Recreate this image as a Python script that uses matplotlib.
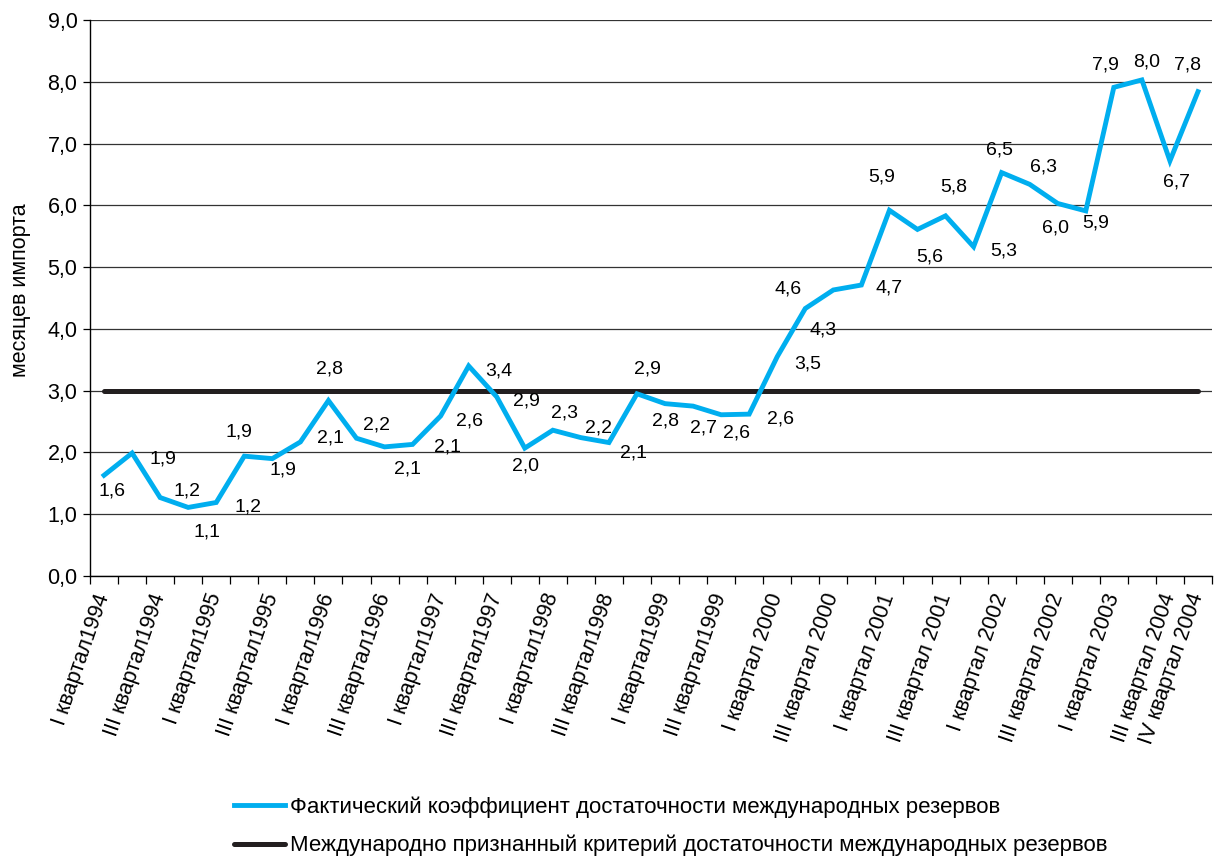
import matplotlib
matplotlib.use("Agg")
import matplotlib.pyplot as plt
from matplotlib.ticker import FixedLocator

plt.rcParams['font.family'] = ['Liberation Sans', 'DejaVu Sans']

# значения коэффициента (месяцев импорта), по кварталам
coef = [1.63, 1.99, 1.27, 1.11, 1.19, 1.94, 1.90, 2.17, 2.84, 2.23,
        2.09, 2.13, 2.59, 3.40, 2.90, 2.07, 2.36, 2.24, 2.16, 2.95,
        2.79, 2.75, 2.61, 2.62, 3.55, 4.33, 4.63, 4.71, 5.92, 5.61,
        5.83, 5.33, 6.53, 6.34, 6.03, 5.91, 7.91, 8.03, 6.72, 7.84]
coef_labels = ['1,6', '1,9', '1,2', '1,1', '1,2', '1,9', '1,9', '2,1', '2,8', '2,2',
               '2,1', '2,1', '2,6', '3,4', '2,9', '2,0', '2,3', '2,2', '2,1', '2,9',
               '2,8', '2,7', '2,6', '2,6', '3,5', '4,3', '4,6', '4,7', '5,9', '5,6',
               '5,8', '5,3', '6,5', '6,3', '6,0', '5,9', '7,9', '8,0', '6,7', '7,8']
criterion = 3.0

tick_pos = [0, 2, 4, 6, 8, 10, 12, 14, 16, 18, 20, 22, 24, 26, 28, 30, 32, 34, 36, 38, 39]
tick_labels = ['I квартал1994', 'III квартал1994', 'I квартал1995', 'III квартал1995',
               'I квартал1996', 'III квартал1996', 'I квартал1997', 'III квартал1997',
               'I квартал1998', 'III квартал1998', 'I квартал1999', 'III квартал1999',
               'I квартал 2000', 'III квартал 2000', 'I квартал 2001', 'III квартал 2001',
               'I квартал 2002', 'III квартал 2002', 'I квартал 2003', 'III квартал 2004',
               'IV квартал 2004']

# смещения подписей (пиксели, dy вниз)
label_offsets = [(8, 16), (31, 6), (27, -7), (19, 25), (32, 5), (-5, -24), (11, 11), (30, -4),
                 (1, -32), (20, -13), (23, 22), (35, 3), (29, 5), (30, 5), (30, 4), (1, 18),
                 (12, -17), (18, -10), (25, 10), (10, -25), (0, 17), (10, 22), (15, 18),
                 (31, 5), (30, 7), (18, 21), (-45, -1), (28, 3), (-8, -33), (12, 28),
                 (8, -29), (30, 4), (-2, -23), (14, -17), (-2, 25), (10, 12), (-8, -22),
                 (5, -18), (7, 21), (-10, -27)]

blue = '#00aeef'
dark = '#231f20'

fig = plt.figure(figsize=(12.19, 8.57), dpi=100)
ax = fig.add_axes([90 / 1219, 1 - 576 / 857, 1122 / 1219, 556 / 857])

x = list(range(len(coef)))
ax.plot(x, coef, color=blue, lw=3.5, solid_joinstyle='miter', zorder=3,
        label='Фактический коэффициент достаточности международных резервов')
ax.plot([x[0], x[-1]], [criterion, criterion], color=dark, lw=3.6,
        solid_capstyle='round', zorder=2,
        label='Международно признанный критерий достаточности международных резервов')

for i, (v, t) in enumerate(zip(coef, coef_labels)):
    dx, dy = label_offsets[i]
    ax.annotate(t, (i, v), xytext=(dx, -dy), textcoords='offset pixels',
                ha='center', va='center', fontsize=14, color='black', zorder=4)

ax.set_xlim(-0.5, len(coef) - 0.5)
ax.set_ylim(0, 9)
ax.set_yticks(range(10))
ax.set_yticklabels([f'{v},0' for v in range(10)], fontsize=15.5)
ax.yaxis.grid(True, color='#333333', lw=0.9)
ax.set_axisbelow(True)

ax.set_xticks(tick_pos)
ax.set_xticklabels(tick_labels, fontsize=15.5, rotation=71, ha='right', va='center',
                   rotation_mode='anchor')
ax.xaxis.set_minor_locator(FixedLocator([i - 0.5 for i in range(len(coef) + 1)]))
ax.tick_params(axis='x', which='major', length=0, pad=13)
ax.tick_params(axis='x', which='minor', length=6, width=0.9, direction='out')
ax.tick_params(axis='y', length=5, width=0.9, pad=4)

for s in ['top', 'right']:
    ax.spines[s].set_visible(False)
for s in ['left', 'bottom']:
    ax.spines[s].set_linewidth(1.0)

ax.set_ylabel('месяцев импорта', fontsize=15.5)
ax.yaxis.set_label_coords(-0.053, 0.514)

fig.legend(loc='upper left', bbox_to_anchor=(234 / 1219, 1 - 796 / 857), frameon=False,
           fontsize=16, handlelength=2.3, handletextpad=0.22, labelspacing=0.78,
           borderpad=0, borderaxespad=0)

fig.savefig('out.png', dpi=100)
